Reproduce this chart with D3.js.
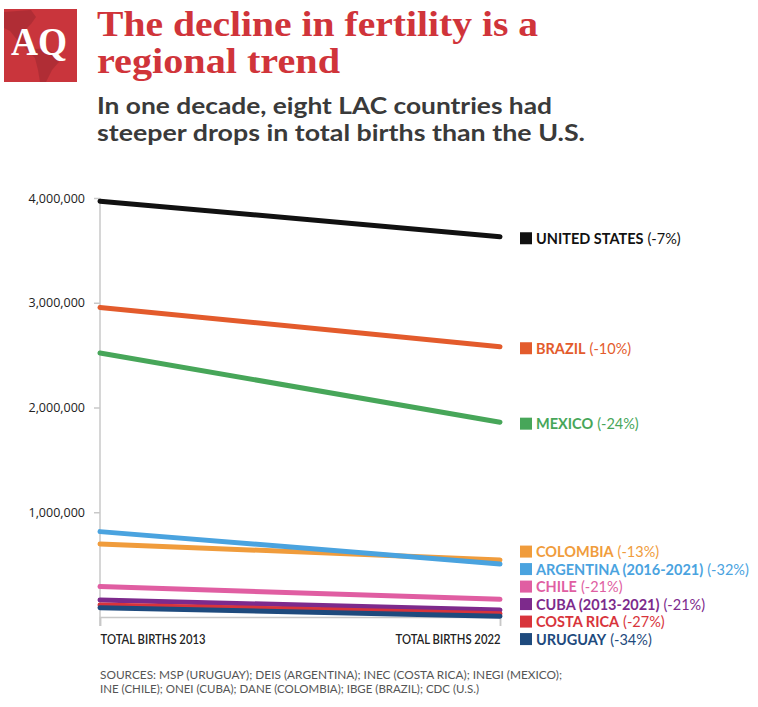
<!DOCTYPE html>
<html>
<head>
<meta charset="utf-8">
<script src="https://d3js.org/d3.v7.min.js"></script>
<style>
  body { margin: 0; background: #fff; }
  svg { display: block; }
  text { font-family: Lato, "Open Sans", sans-serif; }
</style>
</head>
<body>
<svg id="chart"></svg>
<script>
// data
var countries = ["UNITED STATES", "BRAZIL", "MEXICO", "COLOMBIA", "ARGENTINA (2016-2021)",
                 "CHILE", "CUBA (2013-2021)", "COSTA RICA", "URUGUAY"];
var births2013 = [3970000, 2955000, 2520000, 697000, 815000, 290000, 162000, 115000, 89000];
var births2022 = [3630000, 2580000, 1860000, 545000, 506000, 169000, 67000, 32000, 8000];
var changes = ["-7%", "-10%", "-24%", "-13%", "-32%", "-21%", "-21%", "-27%", "-34%"];
var colors = ["#111111", "#e35b2c", "#47a659", "#f09c3c", "#4aa3df", "#e05ea2", "#7d2a8c", "#d8343b", "#1e4a7d"];
var periods = ["TOTAL BIRTHS 2013", "TOTAL BIRTHS 2022"];
var yTicks = [1000000, 2000000, 3000000, 4000000];

var W = 758, H = 707;
var svg = d3.select('#chart').attr('width', W).attr('height', H);

// logo
var logo = svg.append('g');
logo.append('rect').attr('x', 4).attr('y', 9).attr('width', 73).attr('height', 73).attr('fill', '#c9353c');
logo.append('path')
    .attr('d', 'M4,12 L31,10 L36,17 L31,24 L25,30 L23,38 L29,45 L36,49 L46,48 L56,55 L59,62 L52,70 L46,82 L40,82 L38,70 L35,58 L28,51 L18,41 L10,31 L4,28 Z')
    .attr('fill', '#a52b32').attr('opacity', 0.7);
logo.append('text').attr('x', 39).attr('y', 55).attr('text-anchor', 'middle')
    .attr('textLength', 56).attr('lengthAdjust', 'spacingAndGlyphs')
    .style('font-family', '"Liberation Serif", serif').style('font-size', '40px').style('font-weight', 'bold')
    .attr('fill', '#fff').text('AQ');

// title
var title = ["The decline in fertility is a", "regional trend"];
var titleW = [441, 243];
svg.selectAll('.title').data(title).enter().append('text')
    .attr('class', 'title')
    .attr('x', 97).attr('y', function (d, i) { return 36 + i * 37; })
    .attr('textLength', function (d, i) { return titleW[i]; })
    .attr('lengthAdjust', 'spacingAndGlyphs')
    .style('font-family', '"Liberation Serif", serif').style('font-weight', 'bold').style('font-size', '36px')
    .attr('fill', '#d0343a').text(function (d) { return d; });

// subtitle
var subtitle = ["In one decade, eight LAC countries had", "steeper drops in total births than the U.S."];
var subW = [455, 488];
svg.selectAll('.sub').data(subtitle).enter().append('text')
    .attr('class', 'sub')
    .attr('x', 97).attr('y', function (d, i) { return 114 + i * 27; })
    .attr('textLength', function (d, i) { return subW[i]; })
    .attr('lengthAdjust', 'spacingAndGlyphs')
    .style('font-weight', 'bold').style('font-size', '23px')
    .attr('fill', '#3a3a3a').text(function (d) { return d; });

// scales
var x = d3.scalePoint().domain(periods).range([100, 500]);
var y = d3.scaleLinear().domain([0, 4000000]).range([617, 198]);

// y axis
var yAxis = svg.append('g').attr('transform', 'translate(100,0)')
    .call(d3.axisLeft(y).tickValues(yTicks).tickSize(6).tickPadding(9).tickFormat(d3.format(',')));
yAxis.select('.domain').remove();
yAxis.selectAll('.tick line').attr('stroke', '#c8c8c8').attr('stroke-width', 1.5);
yAxis.selectAll('.tick text').attr('fill', '#222').style('font-family', '"Open Sans", sans-serif').style('font-size', '12.5px');
svg.append('line').attr('x1', 100).attr('x2', 100).attr('y1', y(4000000)).attr('y2', 626)
    .attr('stroke', '#c8c8c8').attr('stroke-width', 1.5);

// x axis
var xAxis = svg.append('g').attr('transform', 'translate(0,617)')
    .call(d3.axisBottom(x).tickSize(9).tickPadding(10));
xAxis.select('.domain').attr('stroke', '#c8c8c8').attr('stroke-width', 1.5);
xAxis.selectAll('.tick line').attr('stroke', '#c8c8c8').attr('stroke-width', 1.5);
xAxis.selectAll('.tick text')
    .attr('fill', '#222').style('font-size', '12.5px').style('font-weight', 600)
    .attr('text-anchor', function (d, i) { return i === 0 ? 'start' : 'end'; })
    .attr('textLength', 105).attr('lengthAdjust', 'spacingAndGlyphs')
    .attr('y', 27).attr('dy', 0);

// lines
var rows = countries.map(function (c, i) {
    return { name: c, v: [births2013[i], births2022[i]], change: changes[i], color: colors[i] };
});
var line = d3.line().x(function (d, i) { return x(periods[i]); }).y(function (d) { return y(d); });
svg.selectAll('.series').data(rows).enter().append('path')
    .attr('class', 'series')
    .attr('d', function (d) { return line(d.v); })
    .attr('fill', 'none').attr('stroke', function (d) { return d.color; })
    .attr('stroke-width', 5).attr('stroke-linecap', 'round');

// legend labels: start at line end, push apart keeping cluster centres
var gap = 17.5;
var labs = rows.map(function (d) { return { d: d, ideal: y(d.v[1]) + 1.5 }; })
    .sort(function (a, b) { return a.ideal - b.ideal; });
var clusters = labs.map(function (l) { return { items: [l], centre: l.ideal }; });
var merged = true;
while (merged) {
    merged = false;
    for (var i = 0; i < clusters.length - 1; i++) {
        var a = clusters[i], b = clusters[i + 1];
        var aEnd = a.centre + (a.items.length - 1) * gap / 2;
        var bStart = b.centre - (b.items.length - 1) * gap / 2;
        if (bStart - aEnd < gap) {
            var items = a.items.concat(b.items);
            a.items = items;
            a.centre = d3.mean(items, function (l) { return l.ideal; });
            clusters.splice(i + 1, 1);
            merged = true;
            break;
        }
    }
}
clusters.forEach(function (c) {
    c.items.forEach(function (l, k) { l.y = c.centre + (k - (c.items.length - 1) / 2) * gap; });
});

var leg = svg.selectAll('.leg').data(labs).enter().append('g')
    .attr('class', 'leg')
    .attr('transform', function (l) { return 'translate(520,' + l.y + ')'; });
leg.append('rect').attr('x', 0).attr('y', -6).attr('width', 12).attr('height', 12)
    .attr('fill', function (l) { return l.d.color; });
var lt = leg.append('text').attr('x', 16).attr('y', 5.5)
    .attr('fill', function (l) { return l.d.color; })
    .style('font-size', '14.5px');
lt.append('tspan').style('font-weight', 'bold').text(function (l) { return l.d.name; });
lt.append('tspan').style('font-weight', 400).attr('dx', 4).text(function (l) { return '(' + l.d.change + ')'; });

// sources
var sources = ["SOURCES: MSP (URUGUAY); DEIS (ARGENTINA); INEC (COSTA RICA); INEGI (MEXICO);",
               "INE (CHILE); ONEI (CUBA); DANE (COLOMBIA); IBGE (BRAZIL); CDC (U.S.)"];
var srcW = [462, 379];
svg.selectAll('.src').data(sources).enter().append('text')
    .attr('class', 'src')
    .attr('x', 100).attr('y', function (d, i) { return 679 + i * 13.5; })
    .attr('textLength', function (d, i) { return srcW[i]; })
    .attr('lengthAdjust', 'spacingAndGlyphs')
    .style('font-size', '11.5px').style('font-weight', 400)
    .attr('fill', '#555').text(function (d) { return d; });
</script>
</body>
</html>
